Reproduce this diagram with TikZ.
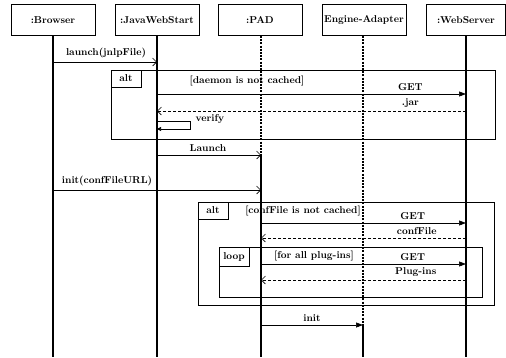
\documentclass[tikz,border=0pt]{standalone}
\usetikzlibrary{arrows.meta,positioning,calc}

\begin{document}
\begin{tikzpicture}[x=1pt,y=-1pt,semithick,
			every node/.style={font=\bfseries},
			obj/.style={draw,line width=0.8pt,minimum width=84pt,minimum height=31pt,inner sep=1pt},
			life/.style={line width=1.3pt},
			idle/.style={line width=1.3pt,dash pattern=on 2pt off 1.2pt},
			frm/.style={draw,thin,inner sep=0pt},
			tag/.style={draw,thin,anchor=north west,minimum width=30pt,minimum height=17pt,inner sep=1pt},
			call/.style={-{Straight Barb[length=4pt,width=8pt]}},
			sync/.style={-{Triangle[length=7pt,width=5pt]}},
			ret/.style={densely dashed,-{Straight Barb[length=4pt,width=8pt]}}]
			\useasboundingbox (0,0) rectangle (506,357);
			% objects
			\node[obj] (brw) at (53,20) {:Browser};
			\node[obj] (jws) at (157,20) {:JavaWebStart};
			\node[obj] (pad) at (260,20) {:PAD};
			\node[obj] (eng) at (364,20) {Engine-Adapter};
			\node[obj, minimum width=79pt] (web) at (466,20) {:WebServer};
			% lifelines
			\coordinate (brwE) at (53,357);
			\coordinate (jwsE) at (157,357);
			\coordinate (padA) at (261,155);
			\coordinate (padE) at (261,357);
			\coordinate (engA) at (363,325);
			\coordinate (engE) at (363,357);
			\coordinate (webE) at (466,357);
			\draw[life] (brw.south -| brwE) -- (brwE);
			\draw[life] (jws.south -| jwsE) -- (jwsE);
			\draw[idle] (pad.south -| padA) -- (padA);
			\draw[life] (padA) -- (padE);
			\draw[idle] (eng.south -| engA) -- (engA);
			\draw[life] (engA) -- (engE);
			\draw[life] (web.south -| webE) -- (webE);
			% frames
			\node[frm, minimum width=384pt, minimum height=69pt] (alt1) at (303,104.5) {};
			\node[tag] (alt1t) at (alt1.north west) {alt};
			\node (alt1g) at (247,81) {[daemon is not cached]};
			\node[frm, minimum width=296pt, minimum height=103pt] (alt2) at (346,253.5) {};
			\node[tag] (alt2t) at (alt2.north west) {alt};
			\node (alt2g) at (303,211) {[confFile is not cached]};
			\node[frm, minimum width=263pt, minimum height=50pt] (lp) at (350.5,272) {};
			\node[tag, minimum height=19pt] (lpt) at (lp.north west) {loop};
			\node (lpg) at (314,256) {[for all plug-ins]};
			% message ends
			\coordinate (b1) at (53,62);   \coordinate (j1) at (157,62);
			\coordinate (j2) at (157,94);  \coordinate (w2) at (466,94);
			\coordinate (w3) at (466,111); \coordinate (j3) at (157,111);
			\coordinate (j4) at (157,121); \coordinate (v1) at (190,121);
			\coordinate (v2) at (190,129); \coordinate (j5) at (157,129);
			\coordinate (j6) at (157,155); \coordinate (p6) at (261,155);
			\coordinate (b7) at (53,190);  \coordinate (p7) at (261,190);
			\coordinate (p8) at (261,223); \coordinate (w8) at (466,223);
			\coordinate (w9) at (466,238); \coordinate (p9) at (261,238);
			\coordinate (p10) at (261,264); \coordinate (w10) at (466,264);
			\coordinate (w11) at (466,280); \coordinate (p11) at (261,280);
			\coordinate (p12) at (261,325); \coordinate (e12) at (363,325);
			% messages
			\path (b1) edge[call] node[above, pos=0.51] {launch(jnlpFile)} (j1);
			\path (j2) edge[sync] node[above, pos=0.82] {GET} (w2);
			\path (w3) edge[ret] node[above, pos=0.18] {.jar} (j3);
			\draw[-{Triangle[length=4pt,width=4pt]}] (j4) -- (v1) -- (v2) -- (j5);
			\node[right=2pt of v1, yshift=2pt] (vfy) {verify};
			\path (j6) edge[call] node[above, pos=0.49] {Launch} (p6);
			\path (b7) edge[call] node[above, pos=0.26] {init(confFileURL)} (p7);
			\path (p8) edge[sync] node[above, pos=0.74] {GET} (w8);
			\path (w9) edge[ret] node[above, pos=0.24] {confFile} (p9);
			\path (p10) edge[sync] node[above, pos=0.74] {GET} (w10);
			\path (w11) edge[ret] node[above, pos=0.245] {Plug-ins} (p11);
			\path (p12) edge[sync] node[above, pos=0.5] {init} (e12);
		\end{tikzpicture}
\end{document}
